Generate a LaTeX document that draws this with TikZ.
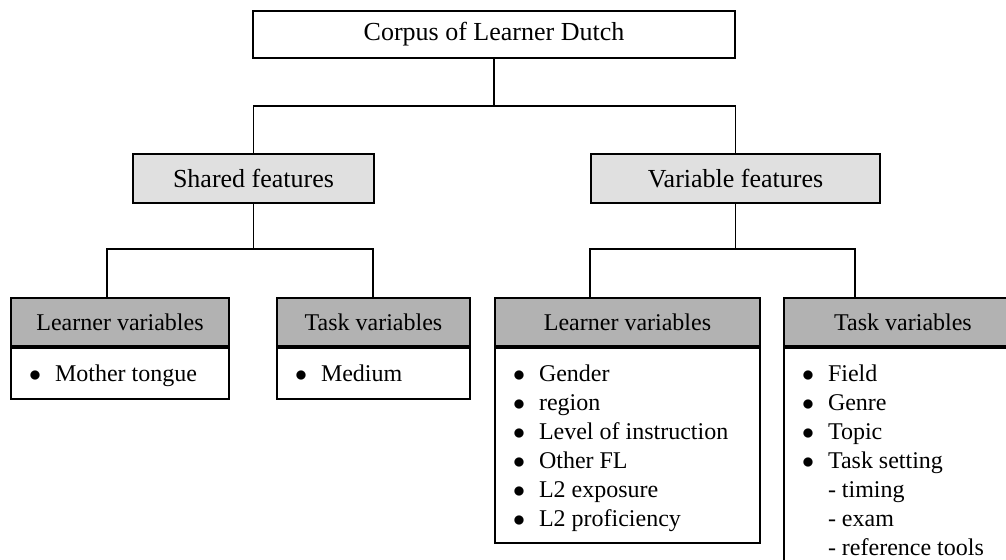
\documentclass[tikz,border=0pt]{standalone}
\usepackage{fontspec}
\setmainfont{Liberation Serif}
\usetikzlibrary{calc}
\newcommand{\bul}[1]{\makebox[13pt][l]{$\bullet$}#1}
\newcommand{\subitm}[1]{\hspace*{13pt}#1}
\newcommand{\varlist}[3]{\parbox[t][#1][t]{#2}{\fontsize{12}{14.5}\selectfont
    \leftskip=9pt\vspace*{6.5pt}\strut#3}}
\tikzset{
    x=0.5pt, y=-0.5pt,
    anybox/.style={draw, line width=1pt, rectangle, inner sep=0pt,
        anchor=north west},
    rootbox/.style={anybox, fill=white, font=\fontsize{13}{15}\selectfont},
    featbox/.style={anybox, fill=black!12, minimum height=24.5pt,
        font=\fontsize{13}{15}\selectfont},
    varhead/.style={anybox, fill=black!30, minimum height=24pt,
        font=\fontsize{12}{14}\selectfont},
    varbody/.style={anybox, fill=white, align=left},
    link/.style={line width=0.75pt},
}
\begin{document}
\begin{tikzpicture}
    \useasboundingbox (0,0) rectangle (1006,560);
    \clip (0,0) rectangle (1006,560);
    \node[rootbox, minimum width=241pt, minimum height=23.5pt] (corpus)
        at (252,10) {Corpus of Learner Dutch};
    \node[featbox, minimum width=120.5pt] (shared) at (132,153)
        {Shared features};
    \node[featbox, minimum width=144.5pt] (variable) at (590,153)
        {Variable features};
    % shared features
    \node[varhead, minimum width=109pt] (lvone) at (10,297)
        {Learner variables};
    \node[varbody] (lvonelist) at (lvone.south west)
        {\varlist{25.5pt}{109pt}{\bul{Mother tongue}}};
    \node[varhead, minimum width=96.5pt] (tvone) at (276,297)
        {Task variables};
    \node[varbody] (tvonelist) at (tvone.south west)
        {\varlist{25.5pt}{96.5pt}{\bul{Medium}}};
    % variable features
    \node[varhead, minimum width=132.5pt] (lvtwo) at (494,297)
        {Learner variables};
    \node[varbody] (lvtwolist) at (lvtwo.south west)
        {\varlist{97.5pt}{132.5pt}{\bul{Gender}\\ \bul{region}\\
        \bul{Level of instruction}\\ \bul{Other FL}\\ \bul{L2 exposure}\\
        \bul{L2 proficiency}}};
    \node[varhead, minimum width=119pt] (tvtwo) at (783,297)
        {Task variables};
    \node[varbody] (tvtwolist) at (tvtwo.south west)
        {\varlist{120pt}{119pt}{\bul{Field}\\ \bul{Genre}\\ \bul{Topic}\\
        \bul{Task setting}\\ \subitm{- timing}\\ \subitm{- exam}\\
        \subitm{- reference tools}}};
    % connectors
    \coordinate (jtop) at (corpus.south |- 0,106);
    \coordinate (bl1) at (107,249);
    \coordinate (bl2) at (373,249);
    \coordinate (br1) at (590,249);
    \coordinate (br2) at (855,249);
    \draw[link] (corpus.south) -- (jtop);
    \draw[link] (shared.north) |- (jtop) -| (variable.north);
    \draw[link] (shared.south) -- (shared.south |- bl1);
    \draw[link] (bl1 |- lvone.north) |- (bl2) -- (bl2 |- tvone.north);
    \draw[link] (variable.south) -- (variable.south |- br1);
    \draw[link] (br1 |- lvtwo.north) |- (br2) -- (br2 |- tvtwo.north);
\end{tikzpicture}
\end{document}
